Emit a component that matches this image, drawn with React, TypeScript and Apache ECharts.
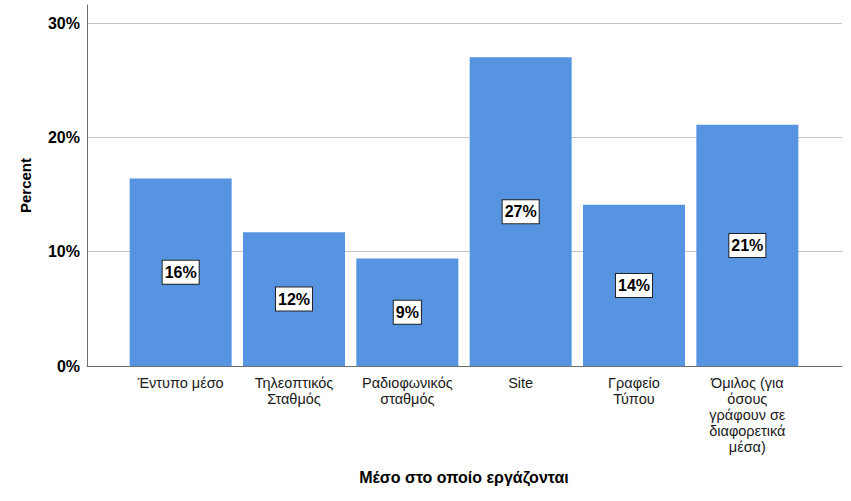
import React, { useEffect, useRef } from "react";
import * as echarts from "echarts";

const categories = [
  "Έντυπο μέσο",
  "Τηλεοπτικός\nΣταθμός",
  "Ραδιοφωνικός\nσταθμός",
  "Site",
  "Γραφείο\nΤύπου",
  "Όμιλος (για\nόσους\nγράφουν σε\nδιαφορετικά\nμέσα)",
];
const percentValues = [16.4, 11.7, 9.4, 27.0, 14.1, 21.1];
const yTicks = [0, 10, 20, 30];
const xTitle = "Μέσο στο οποίο εργάζονται";
const yTitle = "Percent";

const FONT = "'Liberation Sans', Arial, Helvetica, sans-serif";

export default function App() {
  const ref = useRef<HTMLDivElement>(null);
  useEffect(() => {
    if (!ref.current) return;
    const chart = echarts.init(ref.current, undefined, { renderer: "svg" });
    const yMax = yTicks[yTicks.length - 1];
    chart.setOption({
      animation: false,
      backgroundColor: "#ffffff",
      grid: [
        { left: 87, right: 9, top: 23, bottom: 135 },
        { left: 87, right: 9, top: 5, bottom: 135 },
        { left: 124, right: 47, top: 23, bottom: 135 },
      ],
      xAxis: [
        {
          gridIndex: 0,
          type: "value",
          min: 0,
          max: 1,
          axisLine: { show: true, onZero: false, lineStyle: { color: "#6e6e6e", width: 1 } },
          axisTick: { show: false },
          axisLabel: { show: false },
          splitLine: { show: false },
        },
        {
          gridIndex: 1,
          type: "value",
          min: 0,
          max: 1,
          show: false,
        },
        {
          gridIndex: 2,
          type: "category",
          data: categories,
          axisLine: { show: false },
          axisTick: { show: false },
          axisLabel: {
            interval: 0,
            margin: 9,
            color: "#1a1a1a",
            fontFamily: FONT,
            fontSize: 14.5,
            lineHeight: 16,
            align: "center",
          },
          name: xTitle,
          nameLocation: "middle",
          nameGap: 103,
          nameTextStyle: {
            color: "#000",
            fontFamily: FONT,
            fontSize: 16,
            fontWeight: "bold",
          },
        },
      ],
      yAxis: [
        {
          gridIndex: 0,
          type: "value",
          min: 0,
          max: yMax,
          interval: 10,
          axisLine: { show: false },
          axisTick: { show: false },
          axisLabel: {
            formatter: "{value}%",
            color: "#000",
            fontFamily: FONT,
            fontSize: 16,
            fontWeight: "bold",
            margin: 7,
          },
          splitLine: { show: true, lineStyle: { color: "#c4c4c4", width: 1 } },
        },
        {
          gridIndex: 1,
          type: "value",
          min: 0,
          max: 31.5,
          axisLine: { show: true, lineStyle: { color: "#6e6e6e", width: 1 } },
          axisTick: { show: false },
          axisLabel: { show: false },
          splitLine: { show: false },
          name: yTitle,
          nameLocation: "middle",
          nameGap: 54,
          nameTextStyle: {
            color: "#000",
            fontFamily: FONT,
            fontSize: 15,
            fontWeight: "bold",
          },
        },
        {
          gridIndex: 2,
          type: "value",
          min: 0,
          max: yMax,
          show: false,
        },
      ],
      series: [
        {
          type: "bar",
          xAxisIndex: 2,
          yAxisIndex: 2,
          data: percentValues,
          barWidth: 102,
          itemStyle: { color: "#5694E2" },
          label: {
            show: true,
            position: "inside",
            formatter: (p: any) => Math.round(p.value) + "%",
            color: "#000",
            fontFamily: FONT,
            fontSize: 16,
            fontWeight: "bold",
            backgroundColor: "#ffffff",
            borderColor: "#222",
            borderWidth: 1,
            padding: [4, 2, 3, 2],
          },
        },
      ],
    });
    return () => chart.dispose();
  }, []);
  return (
    <div
      ref={ref}
      style={{ position: "fixed", left: 0, top: 0, width: 851, height: 501 }}
    />
  );
}
